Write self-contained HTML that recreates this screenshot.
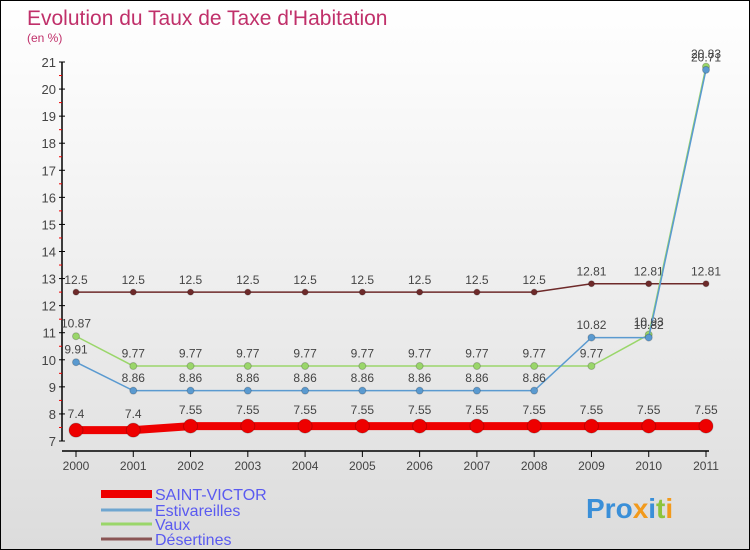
<!DOCTYPE html>
<html><head><meta charset="utf-8"><style>
body{margin:0}
#c{width:748px;height:548px;border:1px solid #000;background:linear-gradient(#fff,#f2f2f2 40%,#dcdcdc);position:relative;font-family:"Liberation Sans",sans-serif;overflow:hidden}
svg{position:absolute;left:0;top:0}
</style></head><body>
<div id="c">
<svg id="s" width="748" height="548">
<text x="26" y="24" font-size="21" fill="#c0306a">Evolution du Taux de Taxe d'Habitation</text>
<text x="26" y="41" font-size="12" fill="#c0306a">(en %)</text>
<text x="585" y="517" font-size="28" font-weight="bold" fill="#3a8fd8">Pro<tspan fill="#f29a1c">x</tspan><tspan fill="#3a8fd8">i</tspan><tspan fill="#8cc43c">t</tspan><tspan fill="#f29a1c">i</tspan></text>
</svg>
</div>
<script>
const years=[2000,2001,2002,2003,2004,2005,2006,2007,2008,2009,2010,2011];
const saintVictor=[7.4,7.4,7.55,7.55,7.55,7.55,7.55,7.55,7.55,7.55,7.55,7.55];
const estivareilles=[9.91,8.86,8.86,8.86,8.86,8.86,8.86,8.86,8.86,10.82,10.82,20.71];
const vaux=[10.87,9.77,9.77,9.77,9.77,9.77,9.77,9.77,9.77,9.77,10.93,20.83];
const desertines=[12.5,12.5,12.5,12.5,12.5,12.5,12.5,12.5,12.5,12.81,12.81,12.81];
const yTicks=[7,8,9,10,11,12,13,14,15,16,17,18,19,20,21];
const NS="http://www.w3.org/2000/svg";
const s=document.getElementById('s');
const X=i=>75+i*(630/11);
const Y=v=>440-(v-7)*(379/14);
function mk(t,a,p){const e=document.createElementNS(NS,t);for(const k in a)e.setAttribute(k,a[k]);(p||s).appendChild(e);return e;}
// axes
let ax=mk('line',{x1:61,y1:61,x2:61,y2:440,stroke:'#000','stroke-width':1.5});


let xa=mk('line',{x1:61,y1:450,x2:708,y2:450,stroke:'#000','stroke-width':1.5});


yTicks.forEach(v=>{
 mk('line',{x1:58,y1:Y(v),x2:64,y2:Y(v),stroke:'#000'});
 if(v<21)mk('line',{x1:58,y1:Y(v+0.5),x2:61,y2:Y(v+0.5),stroke:'#e00'});
 const t=mk('text',{x:55,y:Y(v)+5,'text-anchor':'end','font-size':13,fill:'#444'});
 t.textContent=v;
 
 
});
years.forEach((y,i)=>{
 mk('line',{x1:X(i),y1:450,x2:X(i),y2:456,stroke:'#000'});
 const t=mk('text',{x:X(i),y:469,'text-anchor':'middle','font-size':12,fill:'#444'});
 t.textContent=y;
 
 
});
function series(arr,color,w,r,name){
 const g=mk('g',{});
 
 
 mk('polyline',{points:arr.map((v,i)=>X(i)+','+Y(v)).join(' '),fill:'none',stroke:color,'stroke-width':w},g);
 arr.forEach((v,i)=>{
  const c=mk('circle',{cx:X(i),cy:Y(v),r:r,fill:color,stroke:'#0003'},g);
  
  
  const t=mk('text',{x:X(i),y:Y(v)-(r+5),'text-anchor':'middle','font-size':12,fill:'#444'},g);
  t.textContent=v;
  
  
 });
}
series(desertines,'#6e2a2a',1.5,3,'desertines');
series(vaux,'#9ad66a',1.5,3.5,'vaux');
series(estivareilles,'#5a9ad0',1.5,3.5,'estivareilles');
series(saintVictor,'#ee0000',8,7,'saint-victor');
const legNames=['SAINT-VICTOR','Estivareilles','Vaux','Désertines'];
const legCols=['#ee0000','#6fa6d0','#9ad66a','#8a5555'];
const legW=[8,3,3,3];
const legY=[493,509,523,538];
legNames.forEach((n,i)=>{
 const g=mk('g',{});
 
 
 mk('line',{x1:100,y1:legY[i],x2:151,y2:legY[i],stroke:legCols[i],'stroke-width':legW[i]},g);
 const t=mk('text',{x:154,y:legY[i]+6,'font-size':16,fill:'#5a5af0'},g);
 t.textContent=n;
});
</script>
</body></html>
